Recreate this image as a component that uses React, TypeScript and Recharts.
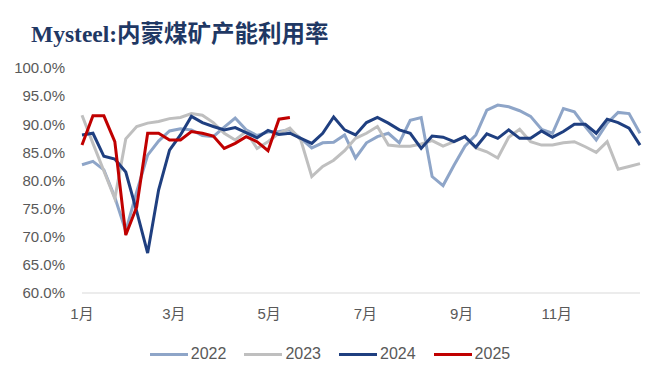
import { LineChart, Line, XAxis, YAxis } from "recharts";

// weekly capacity utilisation (%), 52 weeks per year
const y2022 = [
  82.8, 83.4, 81.9, 77.0, 71.0, 78.0, 84.5, 87.0, 88.8, 89.2, 89.0, 88.0, 87.8,
  89.5, 91.1, 89.0, 88.0, 88.6, 88.7, 89.0, 87.5, 85.8, 86.7, 86.8, 88.1, 84.0,
  86.7, 87.8, 88.4, 86.7, 90.7, 91.2, 80.7, 79.1, 82.7, 86.1, 88.1, 92.5, 93.4,
  93.1, 92.4, 91.4, 89.1, 88.4, 92.8, 92.2, 89.6, 87.2, 90.2, 92.1, 91.9, 88.4,
];
const y2023 = [
  91.6, 86.6, 81.7, 76.8, 87.4, 89.6, 90.2, 90.5, 91.0, 91.2, 91.9, 91.6, 90.3,
  88.4, 87.2, 88.7, 85.7, 86.9, 88.4, 89.3, 87.2, 80.7, 82.5, 83.6, 85.3, 87.5,
  88.4, 89.6, 86.3, 86.1, 86.1, 86.5, 87.1, 86.1, 86.9, 87.8, 85.8, 85.1, 84.0,
  87.7, 89.1, 86.9, 86.3, 86.3, 86.7, 86.9, 86.0, 85.0, 86.9, 82.0, 82.5, 83.0,
];
const y2024 = [
  88.1, 88.4, 84.3, 83.8, 81.5, 74.5, 67.1, 78.3, 85.4, 88.1, 91.4, 90.3, 89.6,
  89.0, 89.4, 88.5, 87.6, 88.9, 88.2, 88.4, 87.5, 86.6, 88.4, 91.3, 89.0, 88.1,
  90.3, 91.2, 90.2, 89.0, 88.4, 85.7, 87.9, 87.7, 86.9, 87.8, 85.9, 88.3, 87.5,
  89.0, 87.5, 87.5, 88.8, 87.7, 88.7, 90.0, 90.0, 88.4, 90.9, 90.3, 89.3, 86.3,
];
const y2025 = [
  86.3, 91.5, 91.5, 86.9, 70.3, 75.3, 88.4, 88.4, 87.2, 87.2, 88.7, 88.4, 87.9,
  85.7, 86.6, 87.8, 86.9, 85.3, 90.9, 91.2,
];

const monthTicks = [0, 8.4, 17.1, 25.9, 34.7, 43.4];
const monthLabels = ["1月", "3月", "5月", "7月", "9月", "11月"];
const yTicks = [60, 65, 70, 75, 80, 85, 90, 95, 100];

const series = [
  { key: "2022", values: y2022, color: "#8EA5C8" },
  { key: "2023", values: y2023, color: "#BFBFBF" },
  { key: "2024", values: y2024, color: "#1F3F80" },
  { key: "2025", values: y2025, color: "#C00000" },
];

const data = y2022.map((_, i) => {
  const row: Record<string, number | undefined> = { week: i };
  series.forEach((s) => {
    row[s.key] = s.values[i];
  });
  return row;
});

const font = "'Liberation Sans', 'Noto Sans CJK SC', sans-serif";

export default function App() {
  return (
    <div
      style={{
        position: "absolute",
        left: 0,
        top: 0,
        width: 660,
        height: 385,
        background: "#fff",
        fontFamily: font,
      }}
    >
      <div
        style={{
          position: "absolute",
          left: 31,
          top: 15,
          fontSize: 23.5,
          fontWeight: 700,
          color: "#1F3864",
          fontFamily: "'Liberation Serif', 'Noto Sans CJK SC', serif",
          whiteSpace: "nowrap",
        }}
      >
        Mysteel:内蒙煤矿产能利用率
      </div>
      <LineChart
        width={660}
        height={385}
        data={data}
        margin={{ top: 68, right: 20, bottom: 0, left: 0 }}
      >
        <XAxis
          dataKey="week"
          type="number"
          domain={[0, 51]}
          ticks={monthTicks}
          tickFormatter={(v) => monthLabels[monthTicks.indexOf(v)] ?? ""}
          height={92}
          tickLine={false}
          tickMargin={9}
          axisLine={{ stroke: "#D9D9D9" }}
          tick={{ fill: "#595959", fontSize: 15, fontFamily: font }}
          interval={0}
        />
        <YAxis
          domain={[60, 100]}
          ticks={yTicks}
          width={82}
          tickFormatter={(v) => `${Number(v).toFixed(1)}%`}
          axisLine={false}
          tickLine={false}
          tickMargin={11}
          tick={{ fill: "#595959", fontSize: 15, fontFamily: font }}
          interval={0}
        />
        {series.map((s) => (
          <Line
            key={s.key}
            dataKey={s.key}
            stroke={s.color}
            strokeWidth={3}
            dot={false}
            type="linear"
            isAnimationActive={false}
            connectNulls={false}
          />
        ))}
      </LineChart>
      <div
        style={{
          position: "absolute",
          left: 0,
          top: 345,
          width: 660,
          display: "flex",
          justifyContent: "center",
          gap: 18,
          fontSize: 16,
          color: "#595959",
        }}
      >
        {series.map((s) => (
          <div key={s.key} style={{ display: "flex", alignItems: "center" }}>
            <span
              style={{
                display: "inline-block",
                width: 38,
                height: 3,
                background: s.color,
                marginRight: 3,
              }}
            />
            <span>{s.key}</span>
          </div>
        ))}
      </div>
    </div>
  );
}
